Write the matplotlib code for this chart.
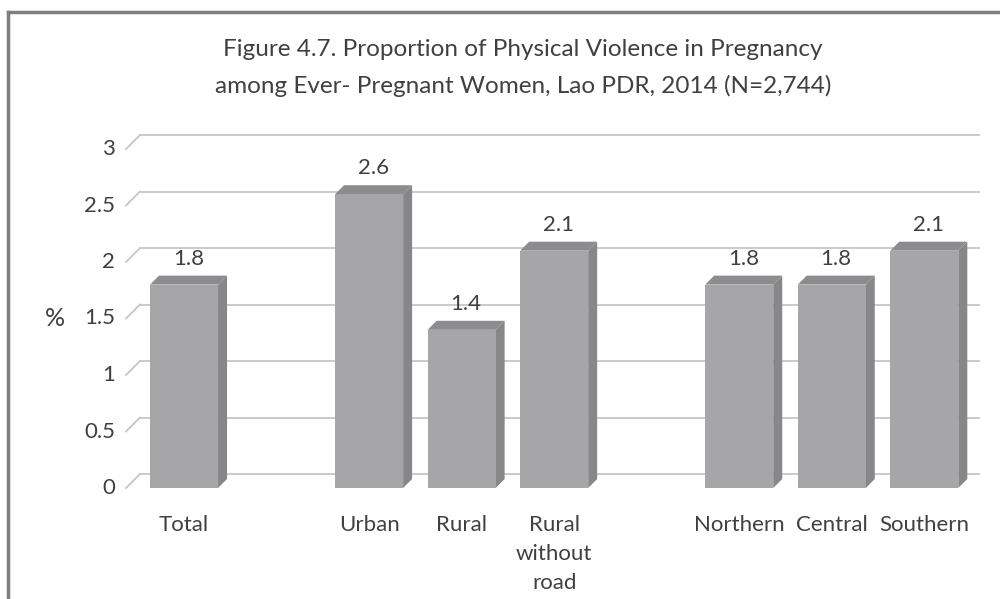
import numpy as np
import matplotlib.pyplot as plt
from matplotlib.patches import Polygon, Rectangle
from matplotlib.lines import Line2D

# Data
categories = ['Total', '', 'Urban', 'Rural', 'Rural\nwithout\nroad', '',
              'Northern', 'Central', 'Southern']
values = [1.8, None, 2.6, 1.4, 2.1, None, 1.8, 1.8, 2.1]
yticks = [0, 0.5, 1, 1.5, 2, 2.5, 3]
title = ('Figure 4.7. Proportion of Physical Violence in Pregnancy\n'
         'among Ever- Pregnant Women, Lao PDR, 2014 (N=2,744)')

plt.rcParams['font.family'] = ['Lato', 'DejaVu Sans']
txt_col = '#404040'
grid_col = '#c6c6c6'
front_col = '#a6a6a9'
side_col = '#87878a'
top_col = '#8c8c8f'

W, H = 1000, 599
fig = plt.figure(figsize=(W / 100, H / 100), dpi=100)

# front plane of the plot area in pixels
left_px, right_px, bot_px, top_px = 126, 965, 488, 149
ax = fig.add_axes([left_px / W, 1 - bot_px / H,
                   (right_px - left_px) / W, (bot_px - top_px) / H])
xlim = (-0.627, 8.44)
ylim = (0, 3)
ax.set_xlim(*xlim)
ax.set_ylim(*ylim)
ax.axis('off')

# convert pixel depth into data units
px_x = (xlim[1] - xlim[0]) / (right_px - left_px)
px_y = (ylim[1] - ylim[0]) / (bot_px - top_px)
wall = 14
bar_d = 9

# back wall gridlines with perspective diagonal
for t in yticks:
    ax.add_line(Line2D([xlim[0] + wall * px_x, xlim[1] + wall * px_x],
                       [t + wall * px_y, t + wall * px_y],
                       color=grid_col, lw=1.3, clip_on=False, zorder=1))
    ax.add_line(Line2D([xlim[0], xlim[0] + wall * px_x],
                       [t, t + wall * px_y],
                       color=grid_col, lw=1.3, clip_on=False, zorder=1))
    ax.text(xlim[0] - 11 * px_x, t, f'{t:g}', ha='right', va='center',
            fontsize=16, color=txt_col)

bw = 0.3676
dx, dy = bar_d * px_x, bar_d * px_y
for i, v in enumerate(values):
    if v is None:
        continue
    xl, xr = i - bw, i + bw
    ax.add_patch(Polygon([(xr, 0), (xr + dx, dy), (xr + dx, v + dy), (xr, v)],
                         closed=True, fc=side_col, ec='none', zorder=2, clip_on=False))
    ax.add_patch(Polygon([(xl, v), (xr, v), (xr + dx, v + dy), (xl + dx, v + dy)],
                         closed=True, fc=top_col, ec='none', zorder=2, clip_on=False))
    ax.add_patch(Rectangle((xl, 0), 2 * bw, v, fc=front_col, ec='none',
                           zorder=3, clip_on=False))
    ax.text(i + dx / 2, v + dy + 7 * px_y, f'{v:.1f}', ha='center', va='bottom',
            fontsize=16, color=txt_col)

for i, c in enumerate(categories):
    if c:
        ax.text(i, -27 * px_y, c, ha='center', va='top', fontsize=16,
                color=txt_col, linespacing=1.56)

ax.text(xlim[0] - 71 * px_x, 1.5, '%', ha='center', va='center',
        fontsize=18, color=txt_col)

fig.text(523 / W, 1 - 68 / H, title, ha='center', va='center', fontsize=17.5,
         color=txt_col, linespacing=1.83)

# outer frame
fig.add_artist(Line2D([8 / W, 8 / W], [0, 1 - 12 / H], color='#7f7f7f', lw=2.5))
fig.add_artist(Line2D([8 / W, 1], [1 - 12 / H, 1 - 12 / H], color='#7f7f7f', lw=2.5))

fig.savefig('out.png', dpi=100)
